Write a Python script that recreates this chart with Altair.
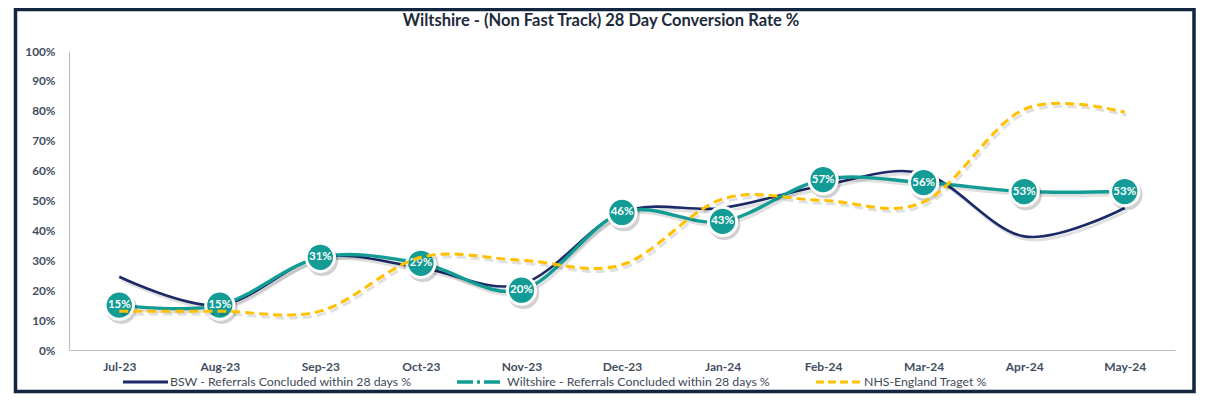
import altair as alt
import pandas as pd

# ---- data ----
months = ["Jul-23", "Aug-23", "Sep-23", "Oct-23", "Nov-23", "Dec-23",
          "Jan-24", "Feb-24", "Mar-24", "Apr-24", "May-24"]
bsw = [24.5, 15, 31, 27.5, 22, 46, 47.5, 55, 59, 38, 47.5]
wiltshire = [15, 15, 31, 29, 20, 46, 43, 57, 56, 53, 53]
nhs_target = [13, 13, 13, 31, 30, 28.5, 50.5, 50, 49.5, 80.5, 79.5]
y_ticks = [0, 10, 20, 30, 40, 50, 60, 70, 80, 90, 100]

title_text = "Wiltshire - (Non Fast Track) 28 Day Conversion Rate %"
legend_labels = ["BSW - Referrals Concluded within 28 days %",
                 "Wiltshire - Referrals Concluded within 28 days %",
                 "NHS-England Traget  %"]

NAVY = "#1c2a68"
TEAL = "#129c95"
GOLD = "#FFC000"
FRAME = "#12263f"
FONT = "Lato"

df = pd.DataFrame({"month": months, "bsw": bsw, "wilts": wiltshire, "target": nhs_target})
df["label"] = [f"{v:.0f}%" for v in wiltshire]

W, H = 1106, 299

x_enc = alt.X("month:O", sort=months, title=None,
              scale=alt.Scale(type="point", padding=0.5),
              axis=alt.Axis(labelAngle=0, labelFont=FONT, labelFontSize=12,
                            labelFontWeight="bold", labelColor="#3f4d60",
                            labelPadding=11, ticks=False, domainColor="#bfbfbf",
                            domainWidth=1.2, grid=False))
y_axis = alt.Axis(values=y_ticks, labelExpr="datum.value + '%'", labelFont=FONT,
                  labelFontSize=11.8, labelFontWeight="bold", labelColor="#3f4d60",
                  labelPadding=14, ticks=False, domainColor="#bfbfbf",
                  domainWidth=1.2, grid=False)
y_scale = alt.Scale(domain=[0, 100], nice=False)


def yenc(field):
    return alt.Y(f"{field}:Q", title=None, scale=y_scale, axis=y_axis)


base = alt.Chart(df)
one = pd.DataFrame({"k": [0]})

frame = alt.Chart(one).mark_rect(fill="transparent", stroke=FRAME, strokeWidth=3.5).encode(
    x=alt.value(-53.5), x2=alt.value(1125), y=alt.value(-41.5), y2=alt.value(340.5))

title = alt.Chart(one).mark_text(font=FONT, fontSize=16.5, fontWeight="bold",
                                 color="#1e2b3c", align="center", baseline="middle").encode(
    x=alt.value(532), y=alt.value(-30), text=alt.value(title_text))

shadow_kw = dict(color="#000000", opacity=0.12, xOffset=2, yOffset=3)

bsw_shadow = base.mark_line(interpolate="cardinal", strokeWidth=3, **shadow_kw).encode(x=x_enc, y=yenc("bsw"))
bsw_line = base.mark_line(interpolate="cardinal", strokeWidth=2.6, color=NAVY).encode(x=x_enc, y=yenc("bsw"))

wil_shadow = base.mark_line(interpolate="cardinal", strokeWidth=3.5, **shadow_kw).encode(x=x_enc, y=yenc("wilts"))
wil_line = base.mark_line(interpolate="cardinal", strokeWidth=3.4, color=TEAL).encode(x=x_enc, y=yenc("wilts"))

marker_shadow = base.mark_circle(size=1000, color="#000000", opacity=0.18, xOffset=2,
                                 yOffset=3).encode(x=x_enc, y=yenc("wilts"))
markers = base.mark_point(shape="circle", size=800, filled=True, fill=TEAL, fillOpacity=1,
                          stroke="white", strokeWidth=3, opacity=1).encode(x=x_enc, y=yenc("wilts"))
labels = base.mark_text(font=FONT, fontSize=11.5, fontWeight="bold", color="white",
                        align="center", baseline="middle").encode(
    x=x_enc, y=yenc("wilts"), text="label:N")

nhs_shadow = base.mark_line(interpolate="cardinal", strokeWidth=3, strokeDash=[9, 5],
                            **shadow_kw).encode(x=x_enc, y=yenc("target"))
nhs_line = base.mark_line(interpolate="cardinal", strokeWidth=3, strokeDash=[9, 5],
                          color=GOLD).encode(x=x_enc, y=yenc("target"))

# ---- legend (drawn as decoration below the axis) ----
LEG_Y = 331
leg_bsw = alt.Chart(one).mark_rule(color=NAVY, strokeWidth=3).encode(
    x=alt.value(54), x2=alt.value(99), y=alt.value(LEG_Y))
leg_wil = alt.Chart(one).mark_rule(color=TEAL, strokeWidth=3.5, strokeDash=[16, 4, 3, 4]).encode(
    x=alt.value(388), x2=alt.value(435), y=alt.value(LEG_Y))
leg_nhs = alt.Chart(one).mark_rule(color=GOLD, strokeWidth=3, strokeDash=[8, 4]).encode(
    x=alt.value(747), x2=alt.value(793), y=alt.value(LEG_Y))

leg_kw = dict(font=FONT, fontSize=12.3, color="#404a57", align="left", baseline="middle")
leg_t1 = alt.Chart(one).mark_text(**leg_kw).encode(x=alt.value(101), y=alt.value(LEG_Y),
                                                   text=alt.value(legend_labels[0]))
leg_t2 = alt.Chart(one).mark_text(**leg_kw).encode(x=alt.value(438), y=alt.value(LEG_Y),
                                                   text=alt.value(legend_labels[1]))
leg_t3 = alt.Chart(one).mark_text(**leg_kw).encode(x=alt.value(795), y=alt.value(LEG_Y),
                                                   text=alt.value(legend_labels[2]))

chart = alt.layer(
    bsw_shadow, bsw_line, wil_shadow, wil_line, marker_shadow, markers, labels,
    nhs_shadow, nhs_line, frame, title,
    leg_bsw, leg_wil, leg_nhs, leg_t1, leg_t2, leg_t3,
).properties(
    width=W, height=H, autosize="none",
    padding={"left": 61, "top": 43, "right": 22, "bottom": 44},
    background="white",
).configure_view(strokeWidth=0)

chart.save("out.html", embed_options={"renderer": "svg", "actions": False})
